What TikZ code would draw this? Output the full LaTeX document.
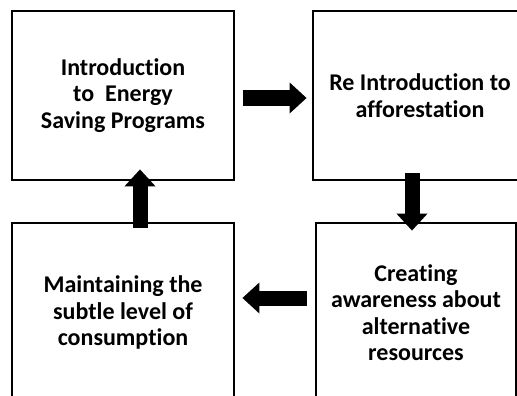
\documentclass[tikz,border=0pt]{standalone}
\usepackage{fontspec}
\setmainfont[Ligatures=NoCommon]{Carlito}
\usepackage{tikz}
\usetikzlibrary{arrows.meta,positioning}

\begin{document}
\begin{tikzpicture}[node distance=297pt,on grid,node font=\bfseries\fontsize{24pt}{26.5pt}\selectfont]
	\tikzstyle{box}=[draw,line width=2.8pt,fill=white,align=center,minimum width=222pt,minimum height=169pt,inner sep=0pt]
	\tikzstyle{blockarrow}=[line width=15pt,-{Triangle[width=30pt,length=17pt]}]
	
	\useasboundingbox (0,0) rectangle (517pt,-396pt);
	\clip (0,0) rectangle (517pt,-396pt);
	
	\node[box]                                   (Intro) at (123pt,-95.5pt)        {Introduction\\to~~Energy\\Saving Programs};
	\node[box,minimum width=214pt]               (Refor) [right=297pt of Intro]    {Re Introduction to\\afforestation};
	\node[box,minimum height=179pt]              (Maint) [below=217pt of Intro]    {Maintaining the\\subtle level of\\consumption};
	\node[box,minimum width=200pt,minimum height=179pt] (Aware) [below=217pt of Refor,xshift=-4pt] {Creating\\awareness about\\alternative\\resources};
	
	\path[blockarrow]
	([yshift=-2.5pt]Intro.east) edge [shorten <=8pt,shorten >=5pt] ([yshift=-2.5pt]Refor.west)
	([xshift=-8pt]Refor.south) edge [shorten <=-8pt,shorten >=-9pt] ([xshift=-4pt]Aware.north)
	([yshift=14.5pt]Aware.west) edge [shorten <=8pt,shorten >=7pt] ([yshift=14.5pt]Maint.east)
	([xshift=17pt]Maint.north) edge [shorten <=-6pt,shorten >=-12pt] ([xshift=17pt]Intro.south);
\end{tikzpicture}
\end{document}
